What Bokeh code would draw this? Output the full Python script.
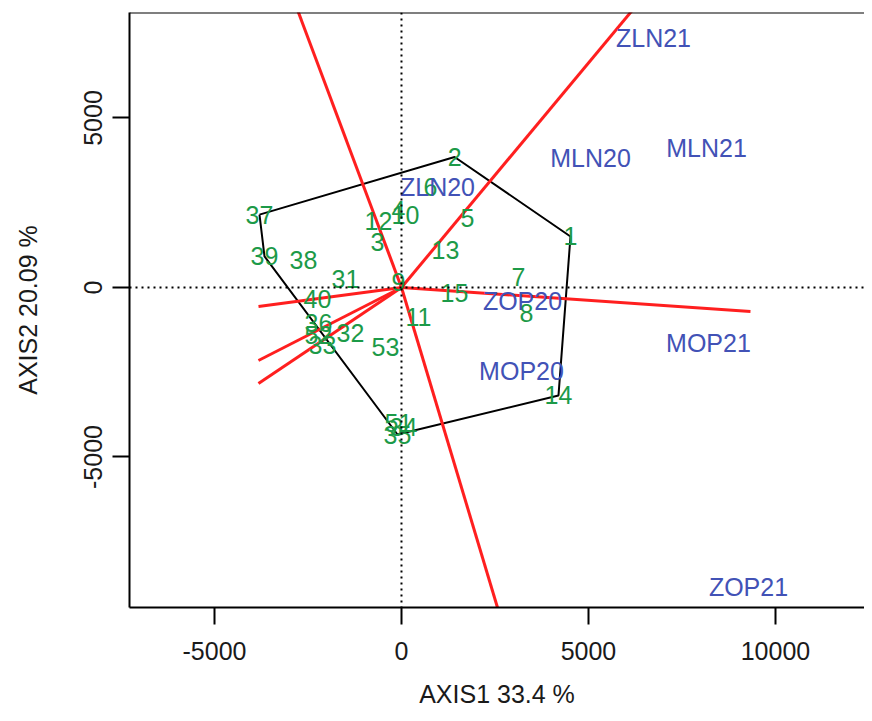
from bokeh.plotting import figure
from bokeh.models import ColumnDataSource, FixedTicker, Range1d, Span
from bokeh.core.properties import value
from bokeh.embed import file_html
from bokeh.resources import INLINE

# Genotype (green) labels and their biplot scores
gen_labels = ["1", "2", "3", "4", "5", "6", "7", "8", "9", "10", "11", "12", "13", "14", "15",
              "31", "32", "33", "34", "35", "36", "37", "38", "39", "40", "51", "52", "53"]
gen_x = [4519, 1420, -642, -80, 1765, 775, 3129, 3343, -80, 107, 455, -615, 1177, 4198, 1417,
         -1497, -1364, -2112, 53, -107, -2219, -3797, -2621, -3663, -2246, -80, -2219, -428]
gen_y = [1505, 3850, 1328, 2272, 2036, 2950, 295, -767, 148, 2124, -856, 1947, 1092, -3186, -177,
         236, -1328, -1711, -4130, -4337, -1062, 2150, 797, 915, -325, -3983, -1416, -1770]

# Environment (blue) labels and scores
env_labels = ["ZLN21", "MLN20", "MLN21", "ZLN20", "ZOP20", "MOP21", "MOP20", "ZOP21"]
env_x = [6738, 5054, 8156, 963, 3236, 8209, 3209, 9279]
env_y = [7346, 3806, 4101, 2950, -413, -1623, -2449, -8850]

# Polygon (convex hull) vertices, by genotype label
hull = ["37", "2", "1", "14", "35", "39", "37"]

# Sector rays from the origin (end points)
ray_x = [-3395, 7549, 9332, 2991, -3824, -3824, -3824]
ray_y = [10000, 10000, -708, -11000, -2832, -2154, -560]

x_ticks = [-5000, 0, 5000, 10000]
y_ticks = [-5000, 0, 5000]

FONT = "Liberation Sans"
GREEN = "#1c9a48"
BLUE = "#4252b6"
RED = "#ff1f1f"
FS = "25px"

Y_TOP = 8112
p = figure(width=864, height=713, output_backend="svg", toolbar_location=None,
           x_range=Range1d(-7273, 12381), y_range=Range1d(-9440, Y_TOP),
           min_border_left=129, min_border_right=0, min_border_top=12, min_border_bottom=106)
p.outline_line_color = None
p.xgrid.visible = False
p.ygrid.visible = False
p.background_fill_color = "white"

# dotted axes through origin
p.add_layout(Span(location=0, dimension="width", line_color="black", line_dash="2 4", line_width=2))
p.add_layout(Span(location=0, dimension="height", line_color="black", line_dash="2 4", line_width=2))
# top border of box
p.add_layout(Span(location=Y_TOP, dimension="width", line_color="black", line_width=2))

# polygon
idx = {lab: i for i, lab in enumerate(gen_labels)}
p.line([gen_x[idx[l]] for l in hull], [gen_y[idx[l]] for l in hull], line_color="black", line_width=2)

# rays
p.segment(x0=[0] * len(ray_x), y0=[0] * len(ray_y), x1=ray_x, y1=ray_y, line_color=RED, line_width=3)

gsrc = ColumnDataSource(dict(x=gen_x, y=gen_y, t=gen_labels))
p.text("x", "y", text="t", source=gsrc, text_color=GREEN, text_font=value(FONT),
       text_font_size=FS, text_align="center", text_baseline="middle")
esrc = ColumnDataSource(dict(x=env_x, y=env_y, t=env_labels))
p.text("x", "y", text="t", source=esrc, text_color=BLUE, text_font=value(FONT),
       text_font_size=FS, text_align="center", text_baseline="middle")

for ax, ticks in ((p.xaxis[0], x_ticks), (p.yaxis[0], y_ticks)):
    ax.ticker = FixedTicker(ticks=ticks)
    ax.major_label_overrides = {t: str(t) for t in ticks}
    ax.minor_tick_line_color = None
    ax.major_tick_in = 0
    ax.major_tick_out = 17
    ax.major_tick_line_width = 2
    ax.axis_line_width = 2
    ax.major_tick_line_color = "black"
    ax.axis_line_color = "black"
    ax.major_label_text_font = FONT
    ax.major_label_text_font_size = FS
    ax.major_label_text_color = "#1a1a1a"
    ax.axis_label_text_font = FONT
    ax.axis_label_text_font_size = FS
    ax.axis_label_text_font_style = "normal"
    ax.axis_label_text_color = "#1a1a1a"

p.xaxis[0].axis_label = "AXIS1 33.4 %"
p.xaxis[0].major_label_standoff = 17
p.xaxis[0].axis_label_standoff = 17
p.yaxis[0].axis_label = "AXIS2 20.09 %"
p.yaxis[0].major_label_orientation = "vertical"
p.yaxis[0].major_label_standoff = 10
p.yaxis[0].axis_label_standoff = 40

open("out.html", "w").write(file_html(p, INLINE))
